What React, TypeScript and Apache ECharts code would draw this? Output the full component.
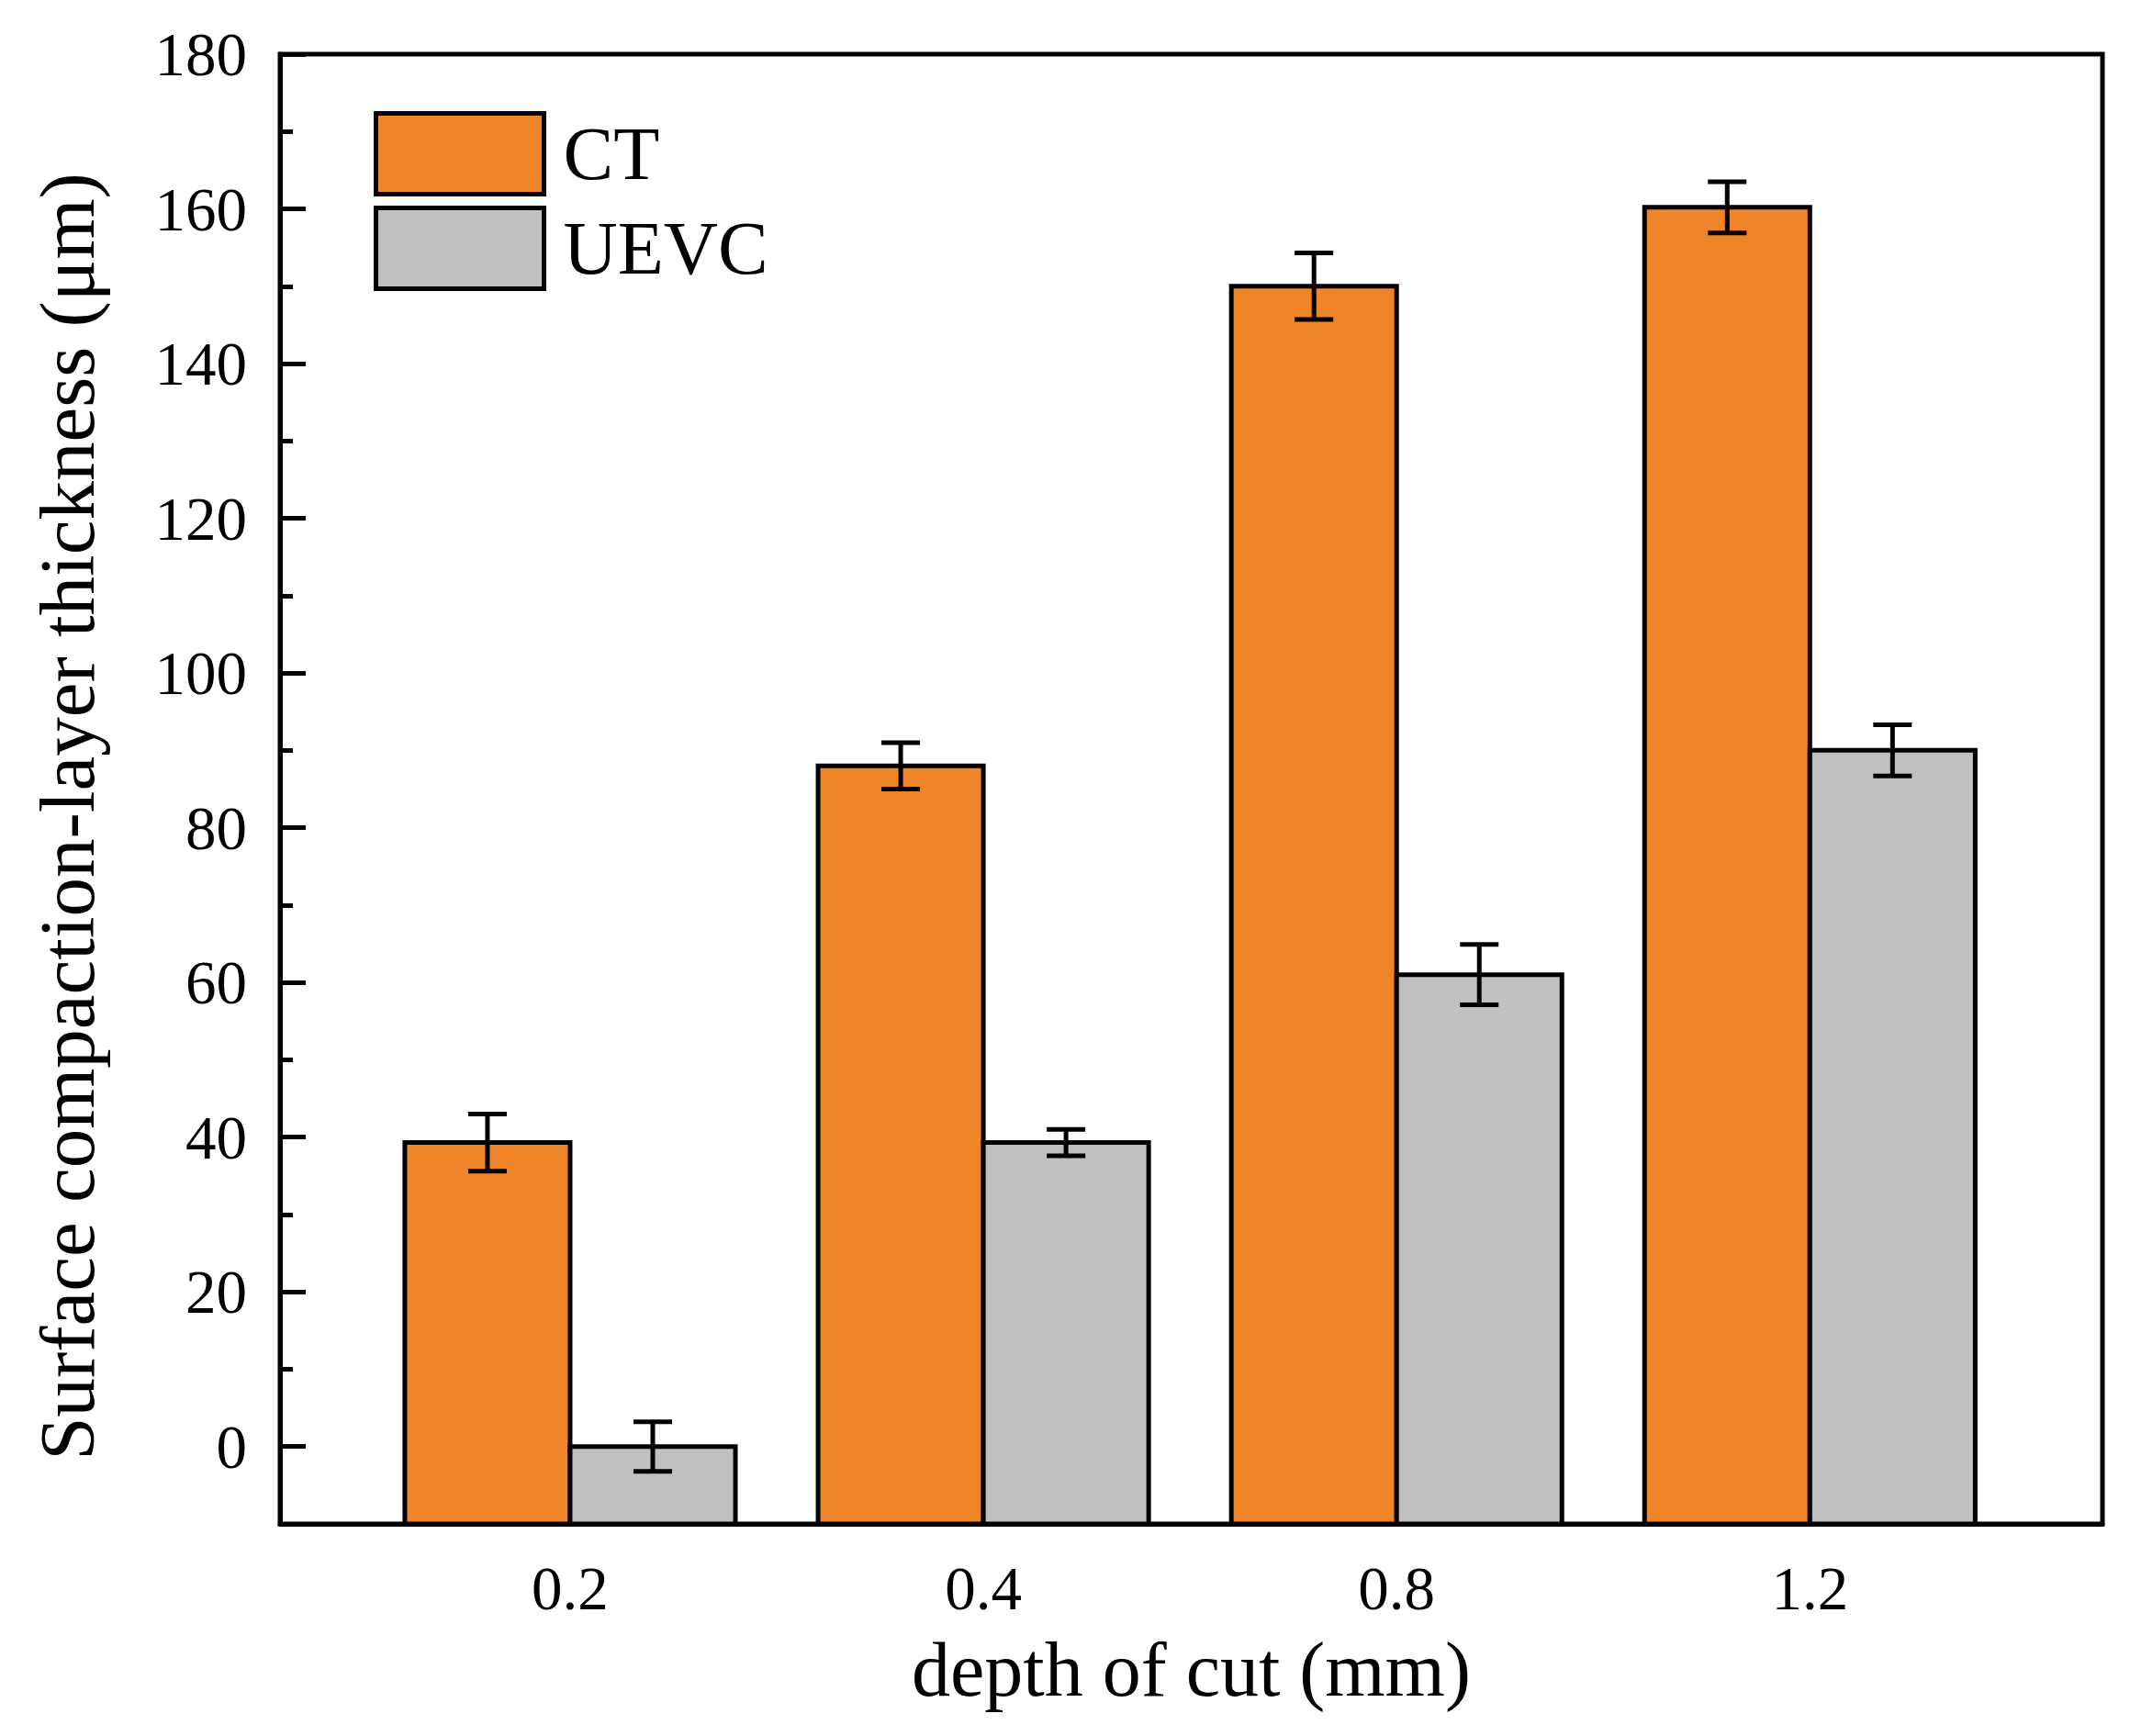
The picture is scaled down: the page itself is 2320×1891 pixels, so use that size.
import React, { useEffect, useRef } from "react";
import * as echarts from "echarts";

const categories = ["0.2", "0.4", "0.8", "1.2"];
const seriesNames = ["CT", "UEVC"];
const ctValues = [39.3, 88, 150, 160.2];
const ctErrors = [3.7, 3.0, 4.3, 3.3];
const uevcValues = [0, 39.3, 61, 90];
const uevcErrors = [3.2, 1.7, 3.9, 3.3];
const yTickLabels = [0, 20, 40, 60, 80, 100, 120, 140, 160, 180];

const Y_MIN = -10;
const Y_MAX = 180;
const BAR_HALF = 0.2;
const FONT = "'Liberation Serif', 'Times New Roman', serif";
const ORANGE = "#EF8529";
const GRAY = "#C0C0C0";
const LW = 5;

function makeRender(offset: number, color: string) {
  return (params: any, api: any) => {
    const x = api.value(0);
    const v = api.value(1);
    const e = api.value(2);
    const tl = api.coord([x + offset - BAR_HALF, v]);
    const br = api.coord([x + offset + BAR_HALF, Y_MIN]);
    const c = api.coord([x + offset, v]);
    const up = api.coord([x + offset, v + e]);
    const dn = api.coord([x + offset, v - e]);
    const cap = 21;
    return {
      type: "group",
      children: [
        {
          type: "rect",
          shape: { x: tl[0], y: tl[1], width: br[0] - tl[0], height: br[1] - tl[1] },
          style: { fill: color, stroke: "#000", lineWidth: LW },
        },
        {
          type: "line",
          shape: { x1: c[0], y1: up[1], x2: c[0], y2: dn[1] },
          style: { stroke: "#000", lineWidth: LW },
        },
        {
          type: "line",
          shape: { x1: c[0] - cap, y1: up[1], x2: c[0] + cap, y2: up[1] },
          style: { stroke: "#000", lineWidth: LW },
        },
        {
          type: "line",
          shape: { x1: c[0] - cap, y1: dn[1], x2: c[0] + cap, y2: dn[1] },
          style: { stroke: "#000", lineWidth: LW },
        },
      ],
    };
  };
}

export default function App() {
  const ref = useRef<HTMLDivElement>(null);
  useEffect(() => {
    if (!ref.current) return;
    const chart = echarts.init(ref.current, null, { renderer: "svg" });
    const ctData = categories.map((_, i) => [i + 1, ctValues[i], ctErrors[i]]);
    const uevcData = categories.map((_, i) => [i + 1, uevcValues[i], uevcErrors[i]]);
    chart.setOption({
      animation: false,
      backgroundColor: "#fff",
      grid: {
        left: 305,
        right: 30,
        top: 59,
        bottom: 231,
        show: true,
        borderColor: "#000",
        borderWidth: LW,
        backgroundColor: "transparent",
      },
      legend: {
        orient: "vertical",
        left: 402,
        top: 116,
        itemWidth: 183,
        itemHeight: 88,
        itemGap: 10,
        textStyle: { fontFamily: FONT, fontSize: 82, color: "#000", padding: [0, 0, 0, 16] },
        data: [
          { name: seriesNames[0], icon: "rect", itemStyle: { color: ORANGE, borderColor: "#000", borderWidth: LW } },
          { name: seriesNames[1], icon: "rect", itemStyle: { color: GRAY, borderColor: "#000", borderWidth: LW } },
        ],
      },
      xAxis: {
        type: "value",
        min: 0.298,
        max: 4.708,
        name: "depth of cut (mm)",
        nameLocation: "middle",
        nameGap: 116,
        nameTextStyle: { fontFamily: FONT, fontSize: 84, color: "#000" },
        axisLine: { show: true, onZero: false, lineStyle: { color: "#000", width: LW } },
        axisTick: { show: false },
        splitLine: { show: false },
        axisLabel: {
          customValues: [1, 2, 3, 4],
          formatter: (v: number) => categories[Math.round(v) - 1] ?? "",
          fontFamily: FONT,
          fontSize: 67,
          color: "#000",
          margin: 36,
        },
      },
      yAxis: [
        {
          type: "value",
          min: Y_MIN,
          max: Y_MAX,
          interval: 10,
          name: "Surface compaction-layer thickness (μm)",
          nameLocation: "middle",
          nameGap: 190,
          nameTextStyle: { fontFamily: FONT, fontSize: 85, color: "#000", padding: [0, 60, 0, 0] },
          axisLine: { show: true, onZero: false, lineStyle: { color: "#000", width: LW } },
          axisTick: { show: true, inside: true, length: 14, lineStyle: { color: "#000", width: LW } },
          splitLine: { show: false },
          axisLabel: {
            formatter: (v: number) => (yTickLabels.indexOf(v) >= 0 ? String(v) : ""),
            fontFamily: FONT,
            fontSize: 67,
            color: "#000",
            margin: 36,
          },
        },
        {
          type: "value",
          min: Y_MIN,
          max: Y_MAX,
          position: "left",
          axisLine: { show: false, onZero: false },
          axisLabel: { show: false },
          splitLine: { show: false },
          axisTick: {
            show: true,
            inside: true,
            length: 28,
            customValues: yTickLabels,
            lineStyle: { color: "#000", width: LW },
          },
        },
      ],
      series: [
        {
          name: seriesNames[0],
          type: "custom",
          itemStyle: { color: ORANGE },
          renderItem: makeRender(-BAR_HALF, ORANGE),
          encode: { x: 0, y: 1 },
          data: ctData,
          z: 3,
        },
        {
          name: seriesNames[1],
          type: "custom",
          itemStyle: { color: GRAY },
          renderItem: makeRender(BAR_HALF, GRAY),
          encode: { x: 0, y: 1 },
          data: uevcData,
          z: 3,
        },
      ],
    });
    return () => chart.dispose();
  }, []);
  return (
    <div
      ref={ref}
      style={{ position: "absolute", left: 0, top: 0, width: 2320, height: 1891, background: "#fff" }}
    />
  );
}
